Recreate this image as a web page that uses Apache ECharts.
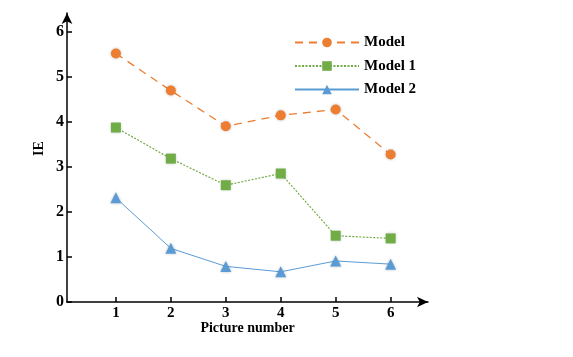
<!DOCTYPE html>
<html>
<head>
<meta charset="utf-8">
<script src="https://cdn.jsdelivr.net/npm/echarts@6/dist/echarts.min.js"></script>
<style>html,body{margin:0;padding:0;background:#fff}#c{width:573px;height:357px}</style>
</head>
<body>
<div id="c"></div>
<script>
var pictureNumbers = [1, 2, 3, 4, 5, 6];
var yTicks = [0, 1, 2, 3, 4, 5, 6];
var modelValues  = [5.51, 4.69, 3.90, 4.14, 4.27, 3.27];
var model1Values = [3.87, 3.18, 2.59, 2.85, 1.47, 1.41];
var model2Values = [2.31, 1.19, 0.79, 0.67, 0.91, 0.84];
var seriesNames = ['Model', 'Model 1', 'Model 2'];

function pairs(vals){ return pictureNumbers.map(function(x,i){ return [x, vals[i]]; }); }

var font = 'Liberation Serif';
var chart = echarts.init(document.getElementById('c'));
chart.setOption({
  backgroundColor: '#fff',
  animation: false,
  grid: { left: 67, right: 145, top: 13, bottom: 55 },
  legend: {
    orient: 'vertical', left: 289, top: 30, itemWidth: 64, itemHeight: 12, itemGap: 8.5,
    data: seriesNames,
    textStyle: { fontFamily: font, fontWeight: 'bold', fontSize: 15, color: '#000' }
  },
  xAxis: {
    type: 'value', min: 0.11, max: 6.68,
    name: 'Picture number', nameLocation: 'middle', nameGap: 19, nameMoveOverlap: false,
    nameTextStyle: { fontFamily: font, fontWeight: 'bold', fontSize: 14, color: '#000' },
    axisLine: { lineStyle: { color: '#000', width: 1.5 }, symbol: ['none', 'arrow'], symbolSize: [8, 11] },
    axisTick: { inside: true, length: 5, lineStyle: { color: '#000', width: 1.5 }, customValues: pictureNumbers },
    axisLabel: { customValues: pictureNumbers, margin: 4, fontFamily: font, fontWeight: 'bold', fontSize: 15, color: '#000' },
    splitLine: { show: false }
  },
  yAxis: {
    type: 'value', min: 0, max: 6.41,
    name: 'IE', nameLocation: 'middle', nameGap: 21, nameRotate: 90, nameMoveOverlap: false,
    nameTextStyle: { fontFamily: font, fontWeight: 'bold', fontSize: 14, color: '#000', padding: [0, 0, 0, 18] },
    axisLine: { show: true, lineStyle: { color: '#000', width: 1.5 }, symbol: ['none', 'arrow'], symbolSize: [8, 11] },
    axisTick: { show: true, inside: true, length: 5, lineStyle: { color: '#000', width: 1.5 }, customValues: yTicks },
    axisLabel: { customValues: yTicks, margin: 3, fontFamily: font, fontWeight: 'bold', fontSize: 16, color: '#000' },
    splitLine: { show: false }
  },
  series: [
    { name: seriesNames[0], type: 'line', data: pairs(modelValues), symbol: 'circle', symbolSize: 10,
      itemStyle: { color: '#ED7D31', shadowBlur: 3, shadowColor: 'rgba(0,0,0,0.25)' },
      lineStyle: { color: '#ED7D31', width: 1.3, type: [8, 6] } },
    { name: seriesNames[1], type: 'line', data: pairs(model1Values), symbol: 'rect', symbolSize: 10,
      itemStyle: { color: '#70AD47', shadowBlur: 3, shadowColor: 'rgba(0,0,0,0.25)' },
      lineStyle: { color: '#70AD47', width: 1.2, type: [2, 1.5] } },
    { name: seriesNames[2], type: 'line', data: pairs(model2Values), symbol: 'triangle', symbolSize: 11,
      itemStyle: { color: '#5B9BD5', shadowBlur: 3, shadowColor: 'rgba(0,0,0,0.25)' },
      lineStyle: { color: '#5B9BD5', width: 1 } }
  ]
});
</script>
</body>
</html>
